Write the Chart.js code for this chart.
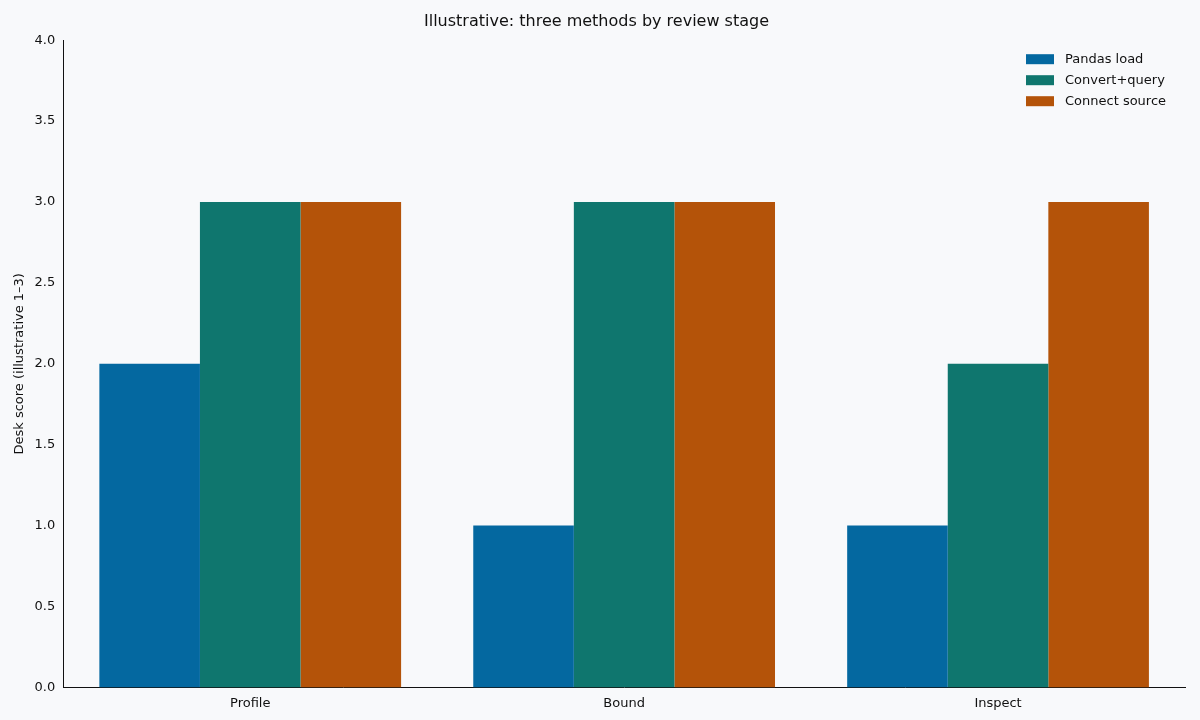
<!DOCTYPE html>
<html>
<head>
<script src="https://cdn.jsdelivr.net/npm/chart.js@4/dist/chart.umd.min.js"></script>
<style>
  html, body { margin: 0; padding: 0; background: #f8f9fb; }
  #wrap { width: 1200px; height: 720px; }
</style>
</head>
<body>
<div id="wrap"><canvas id="myChart"></canvas></div>
<script>
var stages = ["Profile", "Bound", "Inspect"];
var pandasLoad = [2, 1, 1];
var convertQuery = [3, 3, 2];
var connectSource = [3, 3, 3];
var seriesNames = ["Pandas load", "Convert+query", "Connect source"];
var seriesColors = ["#0468a0", "#0f766e", "#b45309"];

Chart.defaults.font.family = "'DejaVu Sans', sans-serif";
Chart.defaults.color = "#111";

// simple matplotlib-like legend in the upper right of the plot
var cornerLegend = {
  id: "cornerLegend",
  afterDraw: function(chart) {
    var ctx = chart.ctx;
    var a = chart.chartArea;
    ctx.save();
    ctx.font = "13px 'DejaVu Sans', sans-serif";
    ctx.textBaseline = "middle";
    chart.data.datasets.forEach(function(ds, i) {
      var y = a.top + 19 + i * 21;
      ctx.fillStyle = ds.backgroundColor;
      ctx.fillRect(a.right - 159, y - 5, 28, 10);
      ctx.fillStyle = "#111";
      ctx.fillText(ds.label, a.right - 120, y);
    });
    ctx.restore();
  }
};

new Chart("myChart", {
  type: "bar",
  data: {
    labels: stages,
    datasets: [
      { label: seriesNames[0], data: pandasLoad, backgroundColor: seriesColors[0] },
      { label: seriesNames[1], data: convertQuery, backgroundColor: seriesColors[1] },
      { label: seriesNames[2], data: connectSource, backgroundColor: seriesColors[2] }
    ]
  },
  options: {
    responsive: true,
    maintainAspectRatio: false,
    animation: false,
    layout: { padding: { left: 8, right: 15, top: 4, bottom: 6 } },
    datasets: { bar: { categoryPercentage: 0.807, barPercentage: 1 } },
    plugins: {
      legend: { display: false },
      tooltip: { enabled: false },
      title: {
        display: true,
        text: "Illustrative: three methods by review stage",
        font: { size: 16, weight: "normal" },
        color: "#111",
        padding: { top: 8, bottom: 9 }
      }
    },
    scales: {
      x: {
        grid: { display: false, drawTicks: true, tickLength: 5 },
        border: { color: "#111" },
        ticks: { font: { size: 13 }, color: "#111" }
      },
      y: {
        min: 0,
        max: 4,
        grid: { display: false, tickLength: 5 },
        border: { color: "#111" },
        ticks: {
          stepSize: 0.5,
          font: { size: 13 },
          color: "#111",
          callback: function(v) { return Number(v).toFixed(1); }
        },
        title: {
          display: true,
          text: "Desk score (illustrative 1–3)",
          font: { size: 13 },
          color: "#111"
        }
      }
    }
  },
  plugins: [cornerLegend]
});
</script>
</body>
</html>
